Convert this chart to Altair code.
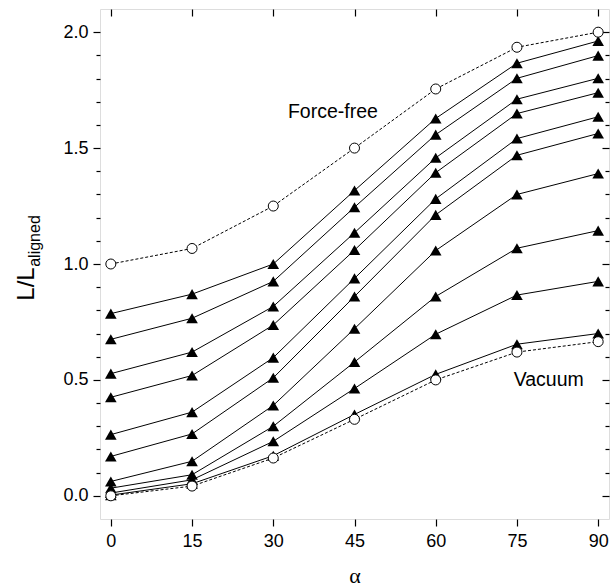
import altair as alt
import pandas as pd

# ---------------- data ----------------
alpha = [0, 15, 30, 45, 60, 75, 90]

tri_1 = [0.786, 0.870, 1.000, 1.317, 1.628, 1.866, 1.962]
tri_2 = [0.675, 0.766, 0.925, 1.245, 1.558, 1.801, 1.899]
tri_3 = [0.527, 0.620, 0.817, 1.135, 1.458, 1.711, 1.801]
tri_4 = [0.425, 0.519, 0.737, 1.060, 1.394, 1.649, 1.739]
tri_5 = [0.264, 0.361, 0.596, 0.938, 1.281, 1.541, 1.635]
tri_6 = [0.170, 0.267, 0.509, 0.860, 1.212, 1.469, 1.563]
tri_7 = [0.062, 0.149, 0.390, 0.721, 1.058, 1.300, 1.390]
tri_8 = [0.033, 0.091, 0.300, 0.577, 0.860, 1.068, 1.144]
tri_9 = [0.012, 0.069, 0.235, 0.463, 0.697, 0.866, 0.925]
tri_10 = [0.003, 0.052, 0.173, 0.351, 0.524, 0.654, 0.700]

force_free = [1.000, 1.067, 1.250, 1.500, 1.755, 1.935, 2.000]
vacuum = [0.000, 0.042, 0.163, 0.330, 0.500, 0.620, 0.665]

x_ticks = [0, 15, 30, 45, 60, 75, 90]
y_major = [0.0, 0.5, 1.0, 1.5, 2.0]
y_minor = [0.1, 0.2, 0.3, 0.4, 0.6, 0.7, 0.8, 0.9, 1.1, 1.2, 1.3, 1.4,
           1.6, 1.7, 1.8, 1.9]

tri_series = [tri_1, tri_2, tri_3, tri_4, tri_5, tri_6, tri_7, tri_8, tri_9, tri_10]
circ_series = {"Force-free": force_free, "Vacuum": vacuum}

rows = []
for i, s in enumerate(tri_series):
    for a, v in zip(alpha, s):
        rows.append({"alpha": a, "L": v, "series": f"t{i + 1}"})
df_tri = pd.DataFrame(rows)

rows = []
for name, s in circ_series.items():
    for a, v in zip(alpha, s):
        rows.append({"alpha": a, "L": v, "series": name})
df_circ = pd.DataFrame(rows)

# ---------------- layout ----------------
W, H = 509, 510
FONT = "Liberation Sans"

xs = alt.Scale(domain=[-2, 92], nice=False, zero=False)
ys = alt.Scale(domain=[-0.1, 2.1], nice=False, zero=False)

axis_common = dict(grid=False, domain=False, tickColor="black", tickWidth=1.2,
                   labelColor="black", labelFont=FONT, labelFontSize=18)

x_main = alt.Axis(orient="bottom", values=x_ticks, tickSize=7, labelPadding=6,
                  title="α", titleFont="Liberation Serif", titleFontSize=22,
                  titleFontWeight="normal", titleColor="black", titlePadding=15,
                  **axis_common)
y_main = alt.Axis(orient="left", values=y_major, tickSize=7, labelPadding=5,
                  format=".1f", title=None, **axis_common)

base_tri = alt.Chart(df_tri)

tri_lines = base_tri.mark_line(color="black", strokeWidth=1).encode(
    x=alt.X("alpha:Q", scale=xs, axis=x_main),
    y=alt.Y("L:Q", scale=ys, axis=y_main),
    detail="series:N",
)

tri_points = base_tri.mark_point(shape="triangle-up", filled=True, color="black",
                                 opacity=1, size=135).encode(
    x=alt.X("alpha:Q", scale=xs, axis=None),
    y=alt.Y("L:Q", scale=ys, axis=None),
)

base_circ = alt.Chart(df_circ)
circ_lines = base_circ.mark_line(color="black", strokeWidth=1,
                                 strokeDash=[3, 2]).encode(
    x=alt.X("alpha:Q", scale=xs, axis=None),
    y=alt.Y("L:Q", scale=ys, axis=None),
    detail="series:N",
)
circ_points = base_circ.mark_point(shape="circle", filled=True, fill="white",
                                   stroke="black", strokeWidth=1, opacity=1,
                                   size=100).encode(
    x=alt.X("alpha:Q", scale=xs, axis=None),
    y=alt.Y("L:Q", scale=ys, axis=None),
)


def tick_layer(xaxis, yaxis):
    return base_tri.mark_point(opacity=0).encode(
        x=alt.X("alpha:Q", scale=xs, axis=xaxis),
        y=alt.Y("L:Q", scale=ys, axis=yaxis),
    )


no_lab = dict(grid=False, domain=False, labels=False, title=None,
              tickColor="black", tickWidth=1.2)

left_minor = tick_layer(None, alt.Axis(orient="left", values=y_minor, tickSize=4, **no_lab))
right_major = tick_layer(None, alt.Axis(orient="left", offset=-W, values=y_major,
                                        tickSize=7, **no_lab))
right_minor = tick_layer(None, alt.Axis(orient="left", offset=-W, values=y_minor,
                                        tickSize=4, **no_lab))
top_major = tick_layer(alt.Axis(orient="bottom", offset=-H, values=x_ticks,
                                tickSize=7, **no_lab), None)

ann_ff = alt.Chart().mark_text(text="Force-free", font=FONT, fontSize=19.5,
                               align="left", baseline="alphabetic",
                               color="black").encode(
    x=alt.datum(32.7, scale=xs, axis=None), y=alt.datum(1.629, scale=ys, axis=None))
ann_vac = alt.Chart().mark_text(text="Vacuum", font=FONT, fontSize=19.5,
                                align="left", baseline="alphabetic",
                                color="black").encode(
    x=alt.datum(74.4, scale=xs, axis=None), y=alt.datum(0.475, scale=ys, axis=None))

# y-axis title: L/L with subscript "aligned"
ytitle_main = alt.Chart().mark_text(text="L/L", font=FONT, fontSize=24, angle=270,
                                    align="center", baseline="alphabetic",
                                    color="black").encode(
    x=alt.value(-66), y=alt.value(275))
ytitle_sub = alt.Chart().mark_text(text="aligned", font=FONT, fontSize=16, angle=270,
                                   align="center", baseline="alphabetic",
                                   color="black").encode(
    x=alt.value(-60), y=alt.value(232))

chart = alt.layer(
    tri_lines, circ_lines, tri_points, circ_points,
    left_minor, right_major, right_minor, top_major,
    ann_ff, ann_vac, ytitle_main, ytitle_sub,
).resolve_axis(x="independent", y="independent").properties(
    width=W, height=H,
    autosize=alt.AutoSizeParams(type="none"),
    padding={"left": 100, "top": 9, "right": 3, "bottom": 67},
).configure_view(stroke="black", strokeWidth=1.6).configure(background="white")

chart.save("out.html", embed_options={"renderer": "svg", "actions": False})
